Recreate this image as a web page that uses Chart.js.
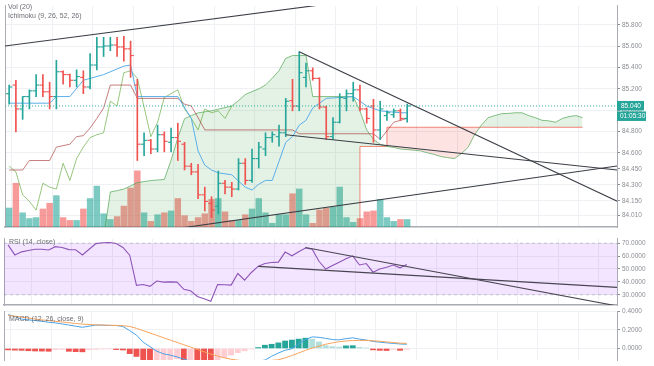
<!DOCTYPE html>
<html>
<head>
<meta charset="utf-8">
<script src="https://cdn.jsdelivr.net/npm/chart.js@4.4.1/dist/chart.umd.min.js"></script>
<style>
  html, body { margin: 0; padding: 0; background: #fff; }
  #wrap { position: relative; width: 654px; height: 366px; overflow: hidden; background: #fff; }
  canvas { position: absolute; left: 0; }
</style>
</head>
<body>
<div id="wrap">
  <canvas id="main" width="654" height="233" style="top:0px"></canvas>
  <canvas id="rsi" width="654" height="78" style="top:233px"></canvas>
  <canvas id="macd" width="654" height="61" style="top:305px"></canvas>
</div>
<script>
// ---- data (bar index 0..59) ----
var opens = [85.155, 85.236, 85.012, 85.128, 85.182, 85.236, 85.173, 85.128, 85.361, 85.334,
    85.281, 85.308, 85.218, 85.424, 85.594, 85.603, 85.612, 85.594, 85.576, 85.236,
    84.681, 84.717, 84.636, 84.770, 84.699, 84.743, 84.681, 84.475, 84.421, 84.206,
    84.126, 84.099, 84.314, 84.278, 84.260, 84.502, 84.341, 84.546, 84.636, 84.743,
    84.752, 84.788, 85.090, 85.039, 85.308, 85.370, 85.299, 85.030, 84.752, 84.887,
    85.111, 85.155, 85.191, 85.012, 85.039, 84.815, 84.949, 84.958, 84.994, 84.923];
var highs = [85.236, 85.281, 85.128, 85.191, 85.334, 85.334, 85.263, 85.469, 85.370, 85.340,
    85.379, 85.370, 85.531, 85.684, 85.684, 85.684, 85.684, 85.693, 85.648, 85.290,
    84.788, 84.726, 84.860, 84.797, 84.833, 84.878, 84.699, 84.502, 84.493, 84.278,
    84.188, 84.430, 84.341, 84.323, 84.546, 84.546, 84.636, 84.699, 84.788, 84.797,
    84.860, 85.111, 85.290, 85.549, 85.442, 85.397, 85.305, 85.039, 84.931, 85.155,
    85.191, 85.263, 85.236, 85.021, 85.102, 85.084, 84.994, 85.012, 85.012, 85.057];
var lows = [85.057, 84.797, 84.914, 85.012, 85.128, 85.128, 85.012, 85.012, 85.245, 85.218,
    85.218, 85.155, 85.200, 85.379, 85.504, 85.558, 85.504, 85.460, 85.308, 84.528,
    84.573, 84.591, 84.609, 84.609, 84.609, 84.528, 84.439, 84.394, 84.170, 84.054,
    83.991, 84.027, 84.215, 84.188, 84.251, 84.305, 84.323, 84.457, 84.573, 84.699,
    84.663, 84.752, 84.994, 84.994, 85.218, 85.281, 85.012, 84.726, 84.726, 84.880,
    84.994, 85.084, 84.994, 84.878, 84.699, 84.726, 84.905, 84.931, 84.905, 84.887];
var closes = [85.218, 85.012, 85.128, 85.182, 85.236, 85.173, 85.128, 85.361, 85.334, 85.281,
    85.316, 85.218, 85.424, 85.594, 85.603, 85.612, 85.594, 85.576, 85.513, 84.681,
    84.717, 84.636, 84.770, 84.708, 84.743, 84.708, 84.475, 84.421, 84.206, 84.144,
    84.063, 84.314, 84.278, 84.260, 84.502, 84.341, 84.546, 84.654, 84.743, 84.770,
    84.788, 85.084, 85.039, 85.352, 85.370, 85.299, 85.030, 84.752, 84.887, 85.119,
    85.155, 85.191, 85.012, 84.923, 84.815, 85.012, 84.976, 84.994, 84.923, 85.040];
var volumes = [800, 1840, 600, 360, 400, 760, 1000, 1320, 400, 280,
    280, 760, 1200, 1720, 560, 320, 440, 880, 1640, 2360,
    600, 240, 520, 600, 680, 1200, 480, 240, 400, 560,
    1160, 1200, 640, 280, 280, 520, 760, 1200, 600, 160,
    520, 520, 1400, 1600, 520, 160, 720, 800, 840, 1680,
    400, 200, 360, 640, 680, 1160, 400, 240, 320, 320];

// ichimoku lines, as [bar, price] vertices
var tenkan = [[0, 85.066], [6, 85.066], [7, 85.128], [9, 85.128], [11, 85.281], [14, 85.334], [17, 85.414],
    [18, 85.424], [19, 85.128], [25, 85.128], [27, 84.923], [28, 84.618], [29, 84.484], [30, 84.439],
    [31, 84.412], [33, 84.394], [35, 84.278], [36, 84.251], [37, 84.305], [38, 84.341], [39, 84.341],
    [40, 84.520], [41, 84.699], [42, 84.752], [43, 84.860], [44, 84.905], [45, 85.021], [47, 85.111],
    [51, 85.128], [52, 85.084], [53, 85.039], [55, 84.994], [58, 84.976], [59, 84.976]];
var kijun = [[0, 84.439], [2, 84.439], [3, 84.528], [6, 84.528], [7, 84.654], [9, 84.681], [10, 84.752],
    [11, 84.761], [12, 84.833], [13, 84.923], [14, 85.021], [15, 85.236], [18, 85.236], [19, 85.111],
    [25, 85.111], [26, 85.057], [27, 85.039], [28, 84.931], [29, 84.815], [42, 84.815], [43, 84.779],
    [54, 84.779], [55, 84.726], [57, 84.887], [59, 84.923]];
// leading spans, bar 0..85 (values under 83.9 sit below the pane)
var spanA = [83.8, 83.8, 83.8, 83.8, 83.8, 83.8, 83.8, 83.8, 83.8, 83.8,
    83.8, 83.8, 83.8, 83.8, 83.8, 84.233, 84.245, 84.26, 84.29, 84.32,
    84.33, 84.34, 84.345, 84.35, 84.53, 84.74, 84.92, 84.95, 84.975, 84.985,
    84.995, 85.01, 85.025, 85.04, 85.09, 85.147, 85.175, 85.2, 85.237, 85.3,
    85.371, 85.487, 85.513, 85.513, 85.513, 85.128, 85.128, 85.128, 85.128, 85.128,
    85.128, 85.128, 84.994, 84.815, 84.726, 84.681, 84.66, 84.65, 84.636, 84.63,
    84.625, 84.618, 84.6, 84.585, 84.565, 84.555, 84.546, 84.59, 84.65, 84.77,
    84.86, 84.93, 84.95, 84.967, 84.97, 84.976, 84.976, 84.95, 84.93, 84.905,
    84.9, 84.887, 84.923, 84.94, 84.95, 84.93];
var spanB = [83.5, 83.5, 83.5, 83.5, 83.5, 83.5, 83.5, 83.5, 83.5, 83.5,
    83.5, 83.5, 83.5, 83.5, 83.5, 83.5, 83.5, 83.5, 83.5, 83.5,
    83.5, 83.5, 83.5, 83.5, 83.5, 83.5, 83.5, 83.5, 83.5, 83.5,
    83.5, 83.5, 83.5, 83.5, 83.5, 83.5, 83.5, 83.5, 83.5, 83.5,
    83.5, 83.5, 83.5, 83.5, 83.5, 83.5, 83.5, 83.5, 83.5, 83.5,
    83.5, 83.5, 84.66, 84.66, 84.66, 84.66, 84.84, 84.84, 84.84, 84.84,
    84.84, 84.84, 84.84, 84.84, 84.84, 84.84, 84.84, 84.84, 84.84, 84.84,
    84.84, 84.84, 84.84, 84.84, 84.84, 84.84, 84.84, 84.84, 84.84, 84.84,
    84.84, 84.84, 84.84, 84.84, 84.84, 84.84];
var laggingShift = 26;

// drawn trend lines [[bar, value], [bar, value]]
var priceTrends = [[[-1, 85.599], [50, 86.02]], [[43, 85.549], [92, 84.09]],
    [[41, 84.77], [92, 84.426]], [[25, 83.89], [92, 84.493]]];
var rsiTrends = [[[44, 66.6], [92, 19.5]], [[37, 52], [92, 35.2]]];

var rsiValues = [68.7, 60.9, 63.3, 64.3, 65.3, 65.3, 64.7, 67.3, 66.7, 65.0,
    64.9, 60.9, 65.3, 69.7, 70.3, 70.5, 69.8, 66.7, 60.7, 37.3,
    38.0, 36.5, 40.7, 39.8, 40.0, 39.8, 34.2, 33.1, 28.7, 27.0,
    25.0, 38.0, 37.8, 37.5, 46.5, 41.3, 47.3, 52.0, 54.3, 55.0,
    55.3, 63.1, 60.2, 63.3, 66.3, 65.3, 56.0, 50.0, 52.7, 55.3,
    58.0, 60.2, 53.1, 54.2, 47.5, 50.0, 51.3, 53.1, 50.9, 53.5];
var rsiBand = [30, 70];

var macdLine = [0.362, 0.34, 0.314, 0.305, 0.298, 0.29, 0.28, 0.273, 0.262, 0.25,
    0.238, 0.226, 0.238, 0.25, 0.248, 0.246, 0.245, 0.235, 0.19, 0.143,
    0.067, 0.019, -0.029, -0.057, -0.071, -0.09, -0.114, -0.135, -0.17, -0.2,
    -0.22, -0.21, -0.2, -0.19, -0.17, -0.155, -0.145, -0.135, -0.124, -0.083,
    -0.048, -0.019, -0.003, 0.048, 0.095, 0.124, 0.119, 0.108, 0.095, 0.092,
    0.105, 0.114, 0.10, 0.09, 0.076, 0.067, 0.06, 0.054, 0.048, 0.045];
var signalLine = [0.352, 0.345, 0.335, 0.325, 0.314, 0.305, 0.298, 0.29, 0.283, 0.275,
    0.267, 0.26, 0.255, 0.252, 0.25, 0.248, 0.246, 0.243, 0.235, 0.215,
    0.19, 0.165, 0.14, 0.115, 0.09, 0.065, 0.04, 0.015, -0.01, -0.035,
    -0.06, -0.08, -0.1, -0.115, -0.125, -0.135, -0.14, -0.14, -0.135, -0.128,
    -0.12, -0.1, -0.075, -0.048, -0.02, 0.005, 0.025, 0.045, 0.06, 0.072,
    0.08, 0.085, 0.086, 0.086, 0.082, 0.077, 0.07, 0.063, 0.057, 0.054];
var macdHist = [-0.015, -0.018, -0.02, -0.024, -0.027, -0.028, -0.03, -0.012, -0.01, -0.03,
    -0.034, -0.036, -0.012, -0.009, -0.006, -0.004, -0.012, -0.016, -0.055, -0.085,
    -0.13, -0.15, -0.14, -0.13, -0.12, -0.11, -0.16, -0.15, -0.18, -0.2,
    -0.21, -0.13, -0.095, -0.07, -0.045, -0.025, -0.006, 0.01, 0.035, 0.045,
    0.06, 0.08, 0.09, 0.1, 0.11, 0.1, 0.07, 0.03, 0.02, 0.015,
    0.028, 0.03, 0.012, 0.005, -0.015, -0.02, -0.022, -0.01, -0.02, -0.01];

var priceTicks = [84.01, 84.15, 84.3, 84.45, 84.6, 84.8, 85.0, 85.2, 85.4, 85.6, 85.8];
var rsiTicks = [30, 40, 50, 60, 70];
var macdTicks = [0, 0.2, 0.4];
var gridBars = [3.4, 9.4, 15.4, 21.4, 27.4, 33.4, 39.4, 45.4, 51.4, 57.4, 63.4, 69.4, 75.4, 81.4, 87.4];
var countdown = '01:05:30';

// ---- look ----
var xMin = -0.6, xMax = 90.1;
var UP = '#26a69a', DOWN = '#ef5350';
var gridColor = '#eef0f4';
var axisColor = '#a9acb3';
var FONT = 'Liberation Sans';
Chart.defaults.font.family = FONT;

function pts(pairs) { return pairs.map(p => ({ x: p[0], y: p[1] })); }
function series(arr) { return arr.map((v, i) => ({ x: i, y: v })); }

function xAxis(showBorder) {
    return {
        type: 'linear', min: xMin, max: xMax, offset: false,
        ticks: { display: false },
        grid: { color: gridColor, drawTicks: false },
        border: { display: showBorder, color: axisColor, width: 1.5 },
        afterBuildTicks: s => { s.ticks = gridBars.map(v => ({ value: v })); },
        afterFit: s => { s.height = 0; }
    };
}
function rightAxis(min, max, ticks, digits) {
    return {
        type: 'linear', position: 'right', min: min, max: max,
        afterBuildTicks: s => { s.ticks = ticks.map(v => ({ value: v })); },
        afterFit: s => { s.width = 37; },
        ticks: { color: '#8a8d93', font: { size: 6.5 }, padding: 2, callback: v => Number(v).toFixed(digits) },
        grid: { color: gridColor, tickColor: '#8a8d93', tickLength: 3 },
        border: { color: axisColor }
    };
}
var leftAxis = {
    type: 'linear', position: 'left', min: 0, max: 1,
    ticks: { display: false }, grid: { display: false, drawTicks: false },
    border: { display: true, color: axisColor },
    afterFit: s => { s.width = 0; }
};

var paneLabels = {
    id: 'paneLabels',
    afterDraw(chart, args, opts) {
        var ctx = chart.ctx;
        ctx.save();
        ctx.font = '7px "' + FONT + '"';
        ctx.fillStyle = '#6b6e75';
        ctx.textBaseline = 'middle';
        (opts.lines || []).forEach(l => ctx.fillText(l.text, l.x, l.y));
        ctx.restore();
    }
};
var priceMarker = {
    id: 'priceMarker',
    afterDatasetsDraw(chart, args, opts) {
        if (opts.value == null) return;
        var ctx = chart.ctx, area = chart.chartArea;
        var py = chart.scales.y.getPixelForValue(opts.value);
        ctx.save();
        ctx.strokeStyle = UP;
        ctx.lineWidth = 1;
        ctx.setLineDash([1, 2]);
        ctx.beginPath();
        ctx.moveTo(area.left, py);
        ctx.lineTo(area.right, py);
        ctx.stroke();
        ctx.setLineDash([]);
        ctx.fillStyle = UP;
        ctx.fillRect(area.right, py - 5, 27, 9.5);
        ctx.fillRect(area.right, py + 5.5, 29, 9.5);
        ctx.fillStyle = '#fff';
        ctx.font = '6.5px "' + FONT + '"';
        ctx.textBaseline = 'middle';
        ctx.fillText(opts.value.toFixed(3), area.right + 4, py - 0.2);
        ctx.fillText(opts.countdown, area.right + 3, py + 10.3);
        ctx.restore();
    }
};

var baseOptions = {
    responsive: false, maintainAspectRatio: false, animation: false, events: [],
    plugins: { legend: { display: false }, tooltip: { enabled: false } }
};

// ---- main pane ----
var barColors = closes.map((c, i) => c >= opens[i] ? UP : DOWN);
var volColors = closes.map((c, i) => c >= opens[i] ? 'rgba(38,166,154,0.6)' : 'rgba(239,83,80,0.58)');
var datasets = [];
priceTrends.forEach(t => datasets.push({
    type: 'line', data: pts(t), borderColor: '#3a3d45', borderWidth: 1.1, pointRadius: 0, order: 1
}));
datasets.push({
    type: 'line', data: opens.map((o, i) => ({ x: i - 0.24, y: o })), showLine: false,
    pointStyle: 'line', pointRadius: 1.6, pointBorderWidth: 1.1, pointBorderColor: barColors, order: 3
});
datasets.push({
    type: 'line', data: closes.map((c, i) => ({ x: i + 0.24, y: c })), showLine: false,
    pointStyle: 'line', pointRadius: 1.6, pointBorderWidth: 1.1, pointBorderColor: barColors, order: 3
});
datasets.push({
    type: 'bar', data: lows.map((l, i) => ({ x: i, y: [l, highs[i]] })), backgroundColor: barColors,
    barThickness: 1, grouped: false, order: 4
});
datasets.push({ type: 'line', data: pts(tenkan), borderColor: '#5aaee8', borderWidth: 1, pointRadius: 0, order: 6 });
datasets.push({ type: 'line', data: pts(kijun), borderColor: 'rgba(153,21,21,0.55)', borderWidth: 1, pointRadius: 0, order: 6 });
datasets.push({
    type: 'line', data: closes.slice(laggingShift).map((c, k) => ({ x: k, y: c })),
    borderColor: 'rgba(69,153,21,0.55)', borderWidth: 1, pointRadius: 0, order: 6
});
datasets.push({
    type: 'line', data: series(spanA), borderColor: 'rgba(67,160,71,0.65)', borderWidth: 1, pointRadius: 0,
    fill: { target: '+1', above: 'rgba(67,160,71,0.14)', below: 'rgba(244,67,54,0.15)' }, order: 8
});
datasets.push({
    type: 'line', data: series(spanB), borderColor: 'rgba(244,67,54,0.65)', borderWidth: 1, pointRadius: 0,
    stepped: true, order: 8
});
datasets.push({
    type: 'bar', data: series(volumes), yAxisID: 'yVol', backgroundColor: volColors,
    barThickness: 5.8, grouped: false, order: 10
});

new Chart(document.getElementById('main'), {
    type: 'line',
    data: { datasets: datasets },
    plugins: [paneLabels, priceMarker],
    options: Object.assign({}, baseOptions, {
        layout: { padding: { left: 4, bottom: 1, top: 0, right: 0 } },
        scales: {
            x: xAxis(true),
            y: rightAxis(83.903, 85.979, priceTicks, 3),
            yVol: { type: 'linear', display: false, min: 0, max: 9280 },
            yLeft: leftAxis
        },
        plugins: {
            legend: { display: false }, tooltip: { enabled: false },
            paneLabels: { lines: [{ text: 'Vol (20)', x: 8, y: 7 }, { text: 'Ichimoku (9, 26, 52, 26)', x: 8, y: 16 }] },
            priceMarker: { value: closes[closes.length - 1], countdown: countdown }
        }
    })
});

// ---- RSI pane ----
var rsiSets = [];
rsiTrends.forEach(t => rsiSets.push({
    type: 'line', data: pts(t), borderColor: '#4a4552', borderWidth: 1.1, pointRadius: 0, order: 0
}));
rsiSets.push({ type: 'line', data: series(rsiValues), borderColor: '#8e55b8', borderWidth: 1.1, pointRadius: 0, order: 1 });
rsiSets.push({
    type: 'line', data: [{ x: xMin, y: rsiBand[1] }, { x: xMax, y: rsiBand[1] }],
    borderColor: 'rgba(120,123,134,0.35)', borderDash: [3, 3], borderWidth: 1, pointRadius: 0,
    fill: '+1', backgroundColor: 'rgba(156,39,255,0.12)', order: 5
});
rsiSets.push({
    type: 'line', data: [{ x: xMin, y: rsiBand[0] }, { x: xMax, y: rsiBand[0] }],
    borderColor: 'rgba(120,123,134,0.35)', borderDash: [3, 3], borderWidth: 1, pointRadius: 0, order: 5
});
new Chart(document.getElementById('rsi'), {
    type: 'line',
    data: { datasets: rsiSets },
    plugins: [paneLabels],
    options: Object.assign({}, baseOptions, {
        layout: { padding: { left: 4, bottom: 1, top: 0, right: 0 } },
        scales: { x: xAxis(true), y: rightAxis(22.0, 73.33, rsiTicks, 4), yLeft: leftAxis },
        plugins: {
            legend: { display: false }, tooltip: { enabled: false },
            paneLabels: { lines: [{ text: 'RSI (14, close)', x: 9, y: 9 }] }
        }
    })
});

// ---- MACD pane ----
var histColors = macdHist.map((v, i) => {
    var prev = i > 0 ? macdHist[i - 1] : v;
    if (v >= 0) return v >= prev ? '#26a69a' : '#b2dfdb';
    return v <= prev ? '#ef5350' : '#ffcdd2';
});
new Chart(document.getElementById('macd'), {
    type: 'line',
    data: {
        datasets: [
            { type: 'line', data: series(signalLine), borderColor: '#f7a35c', borderWidth: 1, pointRadius: 0, order: 1 },
            { type: 'line', data: series(macdLine), borderColor: '#4aa3e8', borderWidth: 1, pointRadius: 0, order: 2 },
            { type: 'bar', data: series(macdHist), backgroundColor: histColors, barThickness: 5.2, grouped: false, order: 5 }
        ]
    },
    plugins: [paneLabels],
    options: Object.assign({}, baseOptions, {
        layout: { padding: { left: 4, bottom: 0, top: 6, right: 0 } },
        scales: { x: xAxis(false), y: rightAxis(-0.124, 0.4, macdTicks, 4), yLeft: leftAxis },
        plugins: {
            legend: { display: false }, tooltip: { enabled: false },
            paneLabels: { lines: [{ text: 'MACD (12, 26, close, 9)', x: 9, y: 14 }] }
        }
    })
});
</script>
</body>
</html>
